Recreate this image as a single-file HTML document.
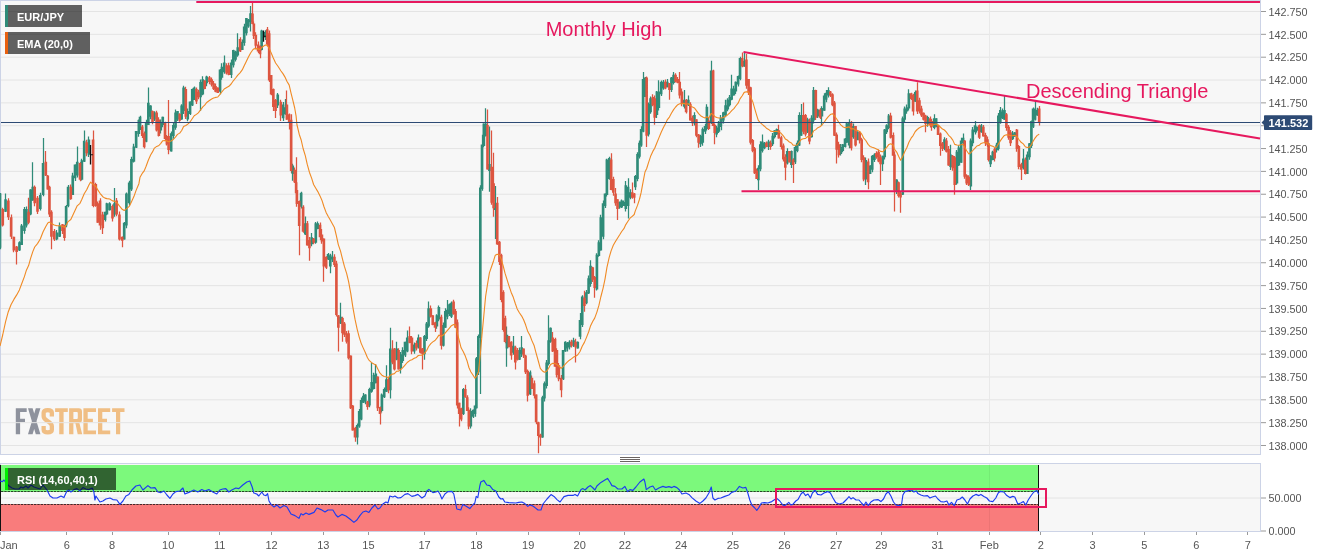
<!DOCTYPE html>
<html><head><meta charset="utf-8"><title>EUR/JPY</title>
<style>html,body{margin:0;padding:0;background:#fff;}body{width:1331px;height:558px;overflow:hidden;font-family:"Liberation Sans",sans-serif;}svg{display:block;will-change:transform;}</style>
</head><body>
<svg width="1331" height="558" viewBox="0 0 1331 558" font-family="Liberation Sans, sans-serif">
<rect width="1331" height="558" fill="#fff"/>
<rect x="0.5" y="0.5" width="1260" height="454" fill="#f7f7f7" stroke="#ccd3e6" stroke-width="1"/>
<path d="M15.8 408.3H26.7V411.90000000000003H20.1V418.7H25V422.1H20.1V434.2H15.8zM28 408.3h4.6L40.4 434.2h-4.6zM35.8 408.3h4.6L32.6 434.2h-4.6z" fill="#8e929d"/><path d="M51.85 416.5V412.80000000000007Q51.85 410.20000000000005 47.75 410.20000000000005Q43.65 410.20000000000005 43.65 412.80000000000007V416.3Q43.65 418.8 47.25 420.90000000000003Q51.85 423.5 51.85 426.3V429.69999999999993Q51.85 432.29999999999995 47.75 432.29999999999995Q43.65 432.29999999999995 43.65 429.69999999999993V426.0" fill="none" stroke="#f0be84" stroke-width="4.3"/><path d="M55.1 408.3H67.8V411.90000000000003H63.6V434.2H59.2V411.90000000000003H55.1zM69.1 408.3H78.8Q82 408.3 82 411.7V419.5Q82 422.70000000000005 79.4 423.0L82.2 434.2H77.7L75.39999999999999 423.3H73.39999999999999V434.2H69.1zM73.39999999999999 411.90000000000003V418.9H76.8Q77.8 418.9 77.8 417.7V413.1Q77.8 411.90000000000003 76.8 411.90000000000003zM83.4 408.3H96V411.90000000000003H87.7V418.7H92.9V422.1H87.7V430.59999999999997H96V434.2H83.4zM98 408.3H110.2V411.90000000000003H102.3V418.7H107V422.1H102.3V430.59999999999997H110.2V434.2H98zM112.1 408.3H124.5V411.90000000000003H120.2V434.2H116V411.90000000000003H112.1z" fill="#f0be84" fill-rule="evenodd"/>
<path d="M1 445.5H1260 M1 422.66H1260 M1 399.82H1260 M1 376.97H1260 M1 354.13H1260 M1 331.29H1260 M1 308.45H1260 M1 285.61H1260 M1 262.76H1260 M1 239.92H1260 M1 217.08H1260 M1 194.24H1260 M1 171.4H1260 M1 148.55H1260 M1 125.71H1260 M1 102.87H1260 M1 80.03H1260 M1 57.19H1260 M1 34.34H1260 M1 11.5H1260" stroke="#e4e4e4" stroke-width="1" fill="none"/>
<path d="M989.5 1V454M989.5 464V531" stroke="#e9e9e9" stroke-width="1" fill="none"/>
<path d="M0.5 192.9V249.2M5.5 193.6V212.0M19.5 241.2V251.1M21.5 224.1V245.0M24.5 206.9V233.7M26.5 206.4V227.6M30.5 189.2V215.3M32.5 162.2V200.8M40.5 192.8V210.6M43.5 138.1V196.2M56.5 230.0V240.3M59.5 222.6V237.0M66.5 204.9V227.3M68.5 184.9V207.3M72.5 172.8V195.0M75.5 164.4V181.0M77.5 146.4V177.6M81.5 158.8V180.6M84.5 130.6V162.0M88.5 136.5V157.0M105.5 211.7V221.5M106.5 202.8V215.3M109.5 202.3V210.6M114.5 188.1V216.8M124.5 222.0V239.4M126.5 192.4V228.2M129.5 180.8V205.4M131.5 156.7V190.9M133.5 143.7V162.5M136.5 131.1V148.1M138.5 119.5V136.8M140.5 115.7V130.1M146.5 119.8V142.2M148.5 87.5V125.0M150.5 105.3V119.3M154.5 111.3V120.9M160.5 119.5V133.5M162.5 116.7V127.3M171.5 131.4V151.4M173.5 122.5V138.7M175.5 109.5V129.8M177.5 110.9V120.9M181.5 104.3V119.7M183.5 85.8V114.0M187.5 108.4V121.2M190.5 101.4V115.1M192.5 88.4V106.1M194.5 86.5V100.0M200.5 79.5V111.1M202.5 76.2V95.3M206.5 75.7V86.2M220.5 69.0V94.3M221.5 63.3V79.8M224.5 55.6V73.7M231.5 59.5V77.9M233.5 49.8V67.6M235.5 50.7V61.5M237.5 33.3V56.7M242.5 39.5V50.0M244.5 23.7V45.7M246.5 18.1V35.4M248.5 19.0V27.8M250.5 6.1V31.4M261.5 29.8V50.6M265.5 30.2V40.1M277.5 93.0V107.9M283.5 102.0V121.1M285.5 98.9V114.7M292.5 163.8V180.8M301.5 191.8V208.4M305.5 216.4V235.0M311.5 233.1V246.2M315.5 222.1V243.7M317.5 221.6V229.2M328.5 252.9V260.0M330.5 253.8V273.3M332.5 251.1V262.1M340.5 302.8V323.9M357.5 423.5V444.4M359.5 409.1V427.8M361.5 397.5V420.3M363.5 392.9V403.1M365.5 394.2V404.3M369.5 387.7V407.3M371.5 362.5V392.8M373.5 372.8V389.5M375.5 363.9V383.3M381.5 393.5V412.6M384.5 387.4V398.1M386.5 365.3V392.0M390.5 327.8V398.6M396.5 341.7V360.3M400.5 352.0V373.6M402.5 347.3V363.1M405.5 341.7V357.0M407.5 330.6V352.3M414.5 342.5V353.7M418.5 334.5V348.4M424.5 334.9V359.7M426.5 321.9V340.9M428.5 301.4V327.8M436.5 314.3V328.7M438.5 305.5V321.2M443.5 322.5V346.4M445.5 308.2V327.8M447.5 300.0V319.3M449.5 303.4V315.9M451.5 301.5V318.1M463.5 387.9V415.1M470.5 408.2V428.4M473.5 409.5V418.1M475.5 404.8V416.7M476.5 357.1V408.6M478.5 334.4V375.1M480.5 185.3V394.0M482.5 134.7V190.7M483.5 123.6V147.2M485.5 108.3V136.6M489.5 126.4V191.7M495.5 186.0V239.0M506.5 326.4V366.7M513.5 336.1V354.8M519.5 347.5V360.0M521.5 336.1V357.1M530.5 370.5V395.0M542.5 395.7V437.8M544.5 381.4V401.5M546.5 360.0V388.4M548.5 315.3V365.6M550.5 327.5V342.8M563.5 350.0V380.0M565.5 341.2V351.7M567.5 342.1V351.5M569.5 340.2V349.5M573.5 337.8V347.0M577.5 341.4V348.6M580.5 313.1V339.3M582.5 295.2V327.0M586.5 290.0V304.2M588.5 275.6V293.9M590.5 260.3V286.8M596.5 253.2V290.6M598.5 240.3V256.7M600.5 214.8V250.6M603.5 200.4V239.3M605.5 193.4V208.1M606.5 158.7V196.5M609.5 156.8V179.8M619.5 201.5V208.7M621.5 199.6V208.1M623.5 200.5V206.1M625.5 181.1V211.5M628.5 178.3V218.6M630.5 189.3V199.2M635.5 174.9V190.1M637.5 152.2V181.2M639.5 140.6V158.4M641.5 126.2V146.7M643.5 71.9V132.2M645.5 77.0V96.9M648.5 102.4V136.5M650.5 96.4V113.7M656.5 91.1V117.9M658.5 80.3V110.4M661.5 80.4V95.9M663.5 79.9V89.8M667.5 79.0V87.2M671.5 77.0V92.0M673.5 71.9V84.5M684.5 90.0V108.4M688.5 95.6V105.9M694.5 112.3V125.4M700.5 134.8V146.9M702.5 127.4V145.7M705.5 124.1V134.0M706.5 104.2V130.6M711.5 60.8V123.9M716.5 125.8V137.2M718.5 121.1V133.1M720.5 115.1V127.0M721.5 117.8V130.3M723.5 111.7V123.5M725.5 99.7V117.3M727.5 98.2V111.2M729.5 95.0V106.4M731.5 74.7V100.3M733.5 85.7V95.6M735.5 81.4V94.0M738.5 75.4V86.5M740.5 56.8V80.3M744.5 52.5V66.7M758.5 165.3V190.0M760.5 141.2V171.2M762.5 134.4V152.6M764.5 142.0V149.2M768.5 139.7V149.9M772.5 133.1V145.9M774.5 130.3V138.4M776.5 128.4V135.0M787.5 148.2V164.5M791.5 150.4V167.9M795.5 145.2V164.0M797.5 140.6V152.3M799.5 112.3V146.1M801.5 103.9V135.8M807.5 117.7V133.1M811.5 115.3V137.5M813.5 87.0V123.5M817.5 108.7V118.1M821.5 106.3V126.1M824.5 93.3V110.8M826.5 90.1V102.3M828.5 87.2V97.6M840.5 144.0V155.6M842.5 143.9V152.3M845.5 137.9V147.5M846.5 122.1V142.8M849.5 119.2V148.2M853.5 123.4V138.7M857.5 131.2V140.3M865.5 157.5V185.0M870.5 165.3V173.9M872.5 155.1V172.3M874.5 153.2V162.0M882.5 155.8V171.1M884.5 129.0V159.5M886.5 124.3V134.0M888.5 114.1V129.2M896.5 179.2V194.0M902.5 116.6V195.0M904.5 106.4V122.6M906.5 104.5V113.7M908.5 89.2V110.4M915.5 90.5V101.7M927.5 115.7V126.8M934.5 114.2V129.2M936.5 118.3V127.2M944.5 137.2V150.3M950.5 144.7V169.9M956.5 149.9V184.8M958.5 145.3V166.1M961.5 137.8V162.8M963.5 133.6V146.0M970.5 138.6V190.0M972.5 127.0V146.2M975.5 121.1V134.5M976.5 126.4V132.6M981.5 124.0V132.8M990.5 155.3V166.9M992.5 150.7V160.3M996.5 142.8V152.6M998.5 113.1V150.6M1000.5 107.0V123.7M1002.5 108.6V118.9M1004.5 96.1V119.7M1012.5 130.9V140.0M1014.5 132.2V136.7M1023.5 148.9V169.5M1027.5 151.5V173.9M1029.5 143.1V159.8M1031.5 120.4V148.1M1033.5 107.4V128.1M1035.5 100.3V120.6M1037.5 107.8V115.8" stroke="#2f8b78" stroke-width="1.25" fill="none"/>
<path d="M2.5 207.7V226.4M8.5 198.3V220.1M11.5 214.5V239.0M13.5 236.7V252.3M16.5 245.9V264.4M28.5 197.8V224.2M34.5 185.4V206.2M37.5 196.1V214.0M45.5 151.1V176.1M47.5 175.1V189.4M49.5 185.7V217.1M51.5 210.2V249.2M54.5 229.1V240.9M62.5 223.9V234.0M64.5 224.8V240.8M70.5 184.5V199.7M80.5 162.1V181.2M86.5 139.8V156.2M93.5 130.6V207.3M95.5 182.7V206.7M97.5 201.6V222.8M100.5 198.3V229.7M102.5 211.7V233.9M112.5 204.6V221.5M116.5 198.1V216.2M119.5 211.5V240.6M122.5 236.4V247.2M142.5 124.9V137.9M144.5 131.4V148.4M152.5 110.4V124.3M156.5 110.8V131.4M158.5 117.2V136.4M165.5 121.7V140.6M166.5 135.1V145.6M168.5 100.0V154.2M179.5 113.2V121.7M185.5 86.7V119.0M196.5 87.4V104.0M198.5 89.7V99.3M204.5 80.3V89.2M209.5 76.0V84.3M211.5 77.4V86.5M213.5 81.1V90.1M215.5 83.4V92.2M217.5 87.5V93.1M226.5 63.3V74.5M228.5 62.8V75.3M240.5 37.2V52.0M252.5 2.8V24.2M253.5 21.6V39.0M255.5 32.3V48.2M258.5 41.5V53.1M260.5 45.6V58.3M267.5 27.0V46.5M269.5 30.6V82.0M271.5 75.0V95.3M273.5 88.4V111.1M275.5 99.0V118.1M280.5 99.7V121.1M286.5 90.6V119.7M289.5 113.4V129.4M291.5 114.2V173.1M294.5 167.5V183.1M296.5 157.2V193.6M296.5 190.0V206.8M299.5 200.6V255.3M303.5 205.2V232.8M307.5 220.9V245.6M309.5 237.0V260.8M313.5 237.9V244.2M320.5 222.5V240.1M321.5 228.9V243.7M323.5 238.6V281.7M326.5 256.2V268.9M334.5 254.2V267.0M336.5 260.7V316.5M338.5 315.0V351.4M342.5 316.8V341.7M344.5 321.9V337.0M346.5 331.1V343.4M348.5 330.6V359.5M350.5 355.6V408.9M352.5 405.1V430.6M355.5 426.8V441.7M367.5 400.7V409.7M377.5 376.4V411.0M380.5 406.5V424.4M388.5 376.7V393.2M392.5 340.3V364.2M394.5 347.9V370.6M398.5 348.3V369.4M409.5 326.4V343.3M411.5 336.0V354.3M416.5 340.6V350.4M420.5 337.3V353.4M422.5 347.9V369.4M430.5 305.6V317.5M432.5 315.3V325.3M435.5 321.7V331.9M441.5 314.7V349.4M453.5 299.7V314.8M455.5 308.9V328.1M457.5 319.5V408.5M459.5 402.8V426.4M461.5 407.8V421.2M465.5 384.7V397.8M467.5 395.3V411.1M468.5 407.3V429.2M487.5 109.5V169.5M491.5 130.5V204.8M493.5 152.8V216.7M497.5 197.0V244.7M499.5 241.0V264.9M501.5 253.8V302.3M503.5 290.3V331.7M505.5 315.8V343.2M508.5 336.1V347.2M511.5 341.2V359.7M515.5 345.7V369.4M517.5 348.0V360.6M523.5 348.4V357.9M525.5 354.8V374.0M527.5 369.6V401.4M531.5 375.6V388.9M534.5 380.6V398.5M536.5 394.4V424.3M538.5 421.7V453.3M540.5 433.7V445.8M552.5 331.9V352.0M555.5 337.7V366.7M556.5 348.3V377.6M558.5 363.1V381.2M561.5 375.1V397.2M571.5 339.7V347.6M575.5 338.7V362.5M584.5 290.8V311.7M592.5 266.7V282.0M594.5 276.0V297.8M611.5 153.3V190.3M613.5 176.7V195.7M615.5 188.1V205.7M617.5 199.2V220.0M632.5 182.5V198.7M634.5 192.9V203.3M646.5 76.5V146.9M652.5 94.2V106.2M654.5 95.4V124.7M665.5 79.5V89.2M669.5 83.1V99.7M675.5 73.2V82.5M677.5 76.9V83.3M679.5 71.9V98.5M681.5 88.4V106.2M686.5 99.0V113.4M690.5 102.2V120.6M692.5 115.6V126.0M696.5 119.2V137.3M698.5 134.0V147.8M708.5 117.6V130.1M713.5 69.8V126.1M714.5 123.5V144.2M742.5 52.5V67.3M746.5 53.9V88.7M748.5 78.9V95.1M750.5 86.7V144.5M752.5 139.0V152.3M754.5 146.9V173.9M756.5 168.6V178.9M766.5 141.5V147.2M770.5 140.6V149.7M778.5 124.7V138.6M781.5 135.7V149.6M783.5 143.6V161.5M785.5 154.2V180.3M789.5 150.9V162.5M793.5 158.2V183.1M803.5 102.5V134.3M805.5 114.0V136.5M809.5 118.6V144.2M815.5 89.8V120.1M820.5 108.2V118.9M830.5 90.9V97.0M832.5 93.2V106.2M834.5 101.0V136.1M836.5 132.5V163.6M838.5 141.7V157.6M851.5 121.1V150.4M855.5 126.1V146.4M859.5 131.2V143.5M861.5 137.7V162.3M863.5 155.3V181.2M868.5 158.4V189.2M876.5 151.3V158.7M878.5 149.5V162.3M880.5 154.5V185.0M890.5 112.8V138.4M893.5 132.5V155.8M894.5 151.5V211.4M898.5 181.5V197.6M900.5 192.1V212.8M911.5 92.8V100.1M913.5 93.7V115.6M917.5 82.2V114.0M919.5 97.8V113.4M921.5 105.7V117.0M923.5 112.5V120.6M925.5 114.8V132.2M930.5 116.6V127.6M931.5 118.9V130.8M938.5 124.8V135.0M940.5 132.6V155.8M942.5 141.9V150.9M946.5 138.1V152.5M948.5 145.9V165.8M952.5 155.1V170.7M954.5 156.0V194.7M964.5 140.1V178.7M966.5 174.3V185.1M968.5 175.2V185.9M979.5 124.5V138.9M983.5 124.9V136.4M985.5 132.8V146.0M987.5 136.5V146.8M988.5 143.3V161.5M994.5 147.4V161.5M1006.5 112.9V130.7M1008.5 124.9V139.8M1010.5 130.0V146.1M1016.5 129.0V151.8M1018.5 145.1V169.3M1021.5 162.7V180.0M1025.5 157.5V174.5M1039.5 105.9V125.4" stroke="#dd5540" stroke-width="1.25" fill="none"/>
<path d="M-1.30 193.6h2.6V247.8h-2.6zM4.26 199.2h2.6V211.7h-2.6zM18.14 242.2h2.6V250.6h-2.6zM20.37 225.6h2.6V245.0h-2.6zM23.14 208.9h2.6V231.1h-2.6zM25.09 208.9h2.6V225.6h-2.6zM29.26 189.4h2.6V214.4h-2.6zM31.48 186.7h2.6V200.6h-2.6zM38.98 195.0h2.6V208.9h-2.6zM41.76 163.1h2.6V195.0h-2.6zM55.64 232.5h2.6V239.4h-2.6zM58.42 225.6h2.6V236.7h-2.6zM64.81 206.1h2.6V225.6h-2.6zM66.76 186.7h2.6V206.1h-2.6zM71.48 175.6h2.6V195.0h-2.6zM73.70 164.4h2.6V178.3h-2.6zM75.92 161.7h2.6V175.6h-2.6zM80.64 160.3h2.6V179.7h-2.6zM82.87 140.8h2.6V161.7h-2.6zM87.59 139.4h2.6V154.7h-2.6zM103.70 211.7h2.6V220.0h-2.6zM105.64 203.3h2.6V214.4h-2.6zM108.42 203.3h2.6V210.3h-2.6zM113.14 203.3h2.6V214.4h-2.6zM122.87 222.8h2.6V239.4h-2.6zM125.09 193.6h2.6V225.6h-2.6zM127.87 182.5h2.6V203.3h-2.6zM130.09 158.9h2.6V189.4h-2.6zM132.59 146.4h2.6V161.7h-2.6zM134.81 131.1h2.6V147.8h-2.6zM137.59 120.0h2.6V133.9h-2.6zM138.70 116.7h2.6V127.8h-2.6zM144.81 122.2h2.6V141.7h-2.6zM147.03 102.8h2.6V125.0h-2.6zM149.26 105.6h2.6V116.7h-2.6zM153.14 112.5h2.6V119.4h-2.6zM159.53 122.2h2.6V130.6h-2.6zM161.48 116.7h2.6V125.0h-2.6zM169.81 133.3h2.6V151.4h-2.6zM172.03 125.0h2.6V136.1h-2.6zM174.26 112.5h2.6V127.8h-2.6zM176.20 111.1h2.6V119.4h-2.6zM180.37 105.6h2.6V119.4h-2.6zM182.31 87.5h2.6V111.1h-2.6zM186.48 111.1h2.6V119.4h-2.6zM188.70 101.4h2.6V113.9h-2.6zM190.92 88.9h2.6V105.6h-2.6zM192.87 87.5h2.6V100.0h-2.6zM199.26 81.9h2.6V97.2h-2.6zM201.48 79.2h2.6V94.4h-2.6zM205.37 76.4h2.6V83.3h-2.6zM218.70 69.4h2.6V91.7h-2.6zM220.64 66.7h2.6V77.8h-2.6zM222.87 62.5h2.6V72.2h-2.6zM229.81 62.5h2.6V75.0h-2.6zM232.03 50.0h2.6V65.3h-2.6zM234.26 51.4h2.6V59.7h-2.6zM236.48 47.2h2.6V55.6h-2.6zM240.92 41.7h2.6V50.0h-2.6zM242.87 26.4h2.6V43.1h-2.6zM245.09 18.1h2.6V33.3h-2.6zM247.03 19.4h2.6V26.4h-2.6zM249.26 13.3h2.6V22.2h-2.6zM260.37 30.6h2.6V50.0h-2.6zM263.70 31.9h2.6V37.5h-2.6zM276.48 94.4h2.6V105.6h-2.6zM281.76 104.4h2.6V118.3h-2.6zM283.70 107.2h2.6V114.2h-2.6zM291.48 165.6h2.6V173.9h-2.6zM299.81 192.8h2.6V206.7h-2.6zM303.98 223.3h2.6V234.4h-2.6zM310.37 237.2h2.6V244.2h-2.6zM314.53 223.3h2.6V242.8h-2.6zM316.48 223.3h2.6V228.9h-2.6zM326.76 253.9h2.6V259.4h-2.6zM328.98 255.3h2.6V266.4h-2.6zM330.92 256.7h2.6V259.4h-2.6zM339.26 316.7h2.6V323.6h-2.6zM355.92 425.0h2.6V437.5h-2.6zM357.87 411.1h2.6V426.4h-2.6zM359.81 400.0h2.6V419.4h-2.6zM362.03 395.8h2.6V402.8h-2.6zM363.98 394.4h2.6V401.4h-2.6zM368.14 388.9h2.6V405.6h-2.6zM370.37 381.9h2.6V391.7h-2.6zM372.59 375.0h2.6V388.9h-2.6zM374.53 373.6h2.6V383.3h-2.6zM380.64 394.4h2.6V411.1h-2.6zM382.87 388.9h2.6V397.2h-2.6zM385.09 379.2h2.6V391.7h-2.6zM388.98 348.6h2.6V390.3h-2.6zM395.37 348.6h2.6V359.7h-2.6zM399.53 354.2h2.6V368.1h-2.6zM401.48 350.0h2.6V361.1h-2.6zM403.70 341.7h2.6V355.6h-2.6zM405.92 337.5h2.6V351.4h-2.6zM412.87 344.4h2.6V351.4h-2.6zM417.03 337.5h2.6V347.2h-2.6zM423.14 336.1h2.6V354.2h-2.6zM425.37 323.6h2.6V338.9h-2.6zM427.31 308.3h2.6V326.4h-2.6zM435.64 315.3h2.6V326.4h-2.6zM437.59 306.9h2.6V319.4h-2.6zM442.03 325.0h2.6V345.8h-2.6zM443.98 311.1h2.6V327.8h-2.6zM445.92 309.7h2.6V316.7h-2.6zM448.14 304.2h2.6V313.9h-2.6zM450.09 302.8h2.6V316.7h-2.6zM462.03 388.9h2.6V413.9h-2.6zM469.53 411.1h2.6V426.4h-2.6zM471.76 409.7h2.6V416.7h-2.6zM473.70 405.6h2.6V413.9h-2.6zM475.09 358.3h2.6V408.3h-2.6zM477.03 336.1h2.6V372.2h-2.6zM479.00 187.5h2.6V338.0h-2.6zM480.70 144.5h2.6V189.0h-2.6zM482.60 123.6h2.6V146.0h-2.6zM484.30 123.6h2.6V136.0h-2.6zM488.10 164.0h2.6V171.0h-2.6zM494.00 203.0h2.6V210.0h-2.6zM505.64 334.7h2.6V348.6h-2.6zM512.03 345.8h2.6V352.8h-2.6zM518.14 350.0h2.6V359.7h-2.6zM520.37 347.2h2.6V354.2h-2.6zM528.70 372.2h2.6V394.4h-2.6zM541.20 397.2h2.6V437.5h-2.6zM543.14 383.3h2.6V398.6h-2.6zM545.37 362.5h2.6V386.1h-2.6zM547.31 340.3h2.6V363.9h-2.6zM549.26 327.8h2.6V341.7h-2.6zM561.76 350.0h2.6V379.2h-2.6zM563.98 341.7h2.6V351.4h-2.6zM565.92 343.1h2.6V348.6h-2.6zM568.14 341.7h2.6V347.2h-2.6zM572.31 340.3h2.6V345.8h-2.6zM576.48 341.7h2.6V348.6h-2.6zM578.70 320.0h2.6V336.7h-2.6zM580.92 296.4h2.6V325.0h-2.6zM585.09 292.2h2.6V303.3h-2.6zM587.31 278.3h2.6V293.6h-2.6zM589.26 265.8h2.6V283.9h-2.6zM595.64 254.7h2.6V289.4h-2.6zM597.59 242.2h2.6V256.1h-2.6zM599.53 217.2h2.6V250.6h-2.6zM601.76 203.3h2.6V236.7h-2.6zM603.70 193.6h2.6V206.1h-2.6zM605.64 159.4h2.6V195.0h-2.6zM607.87 158.1h2.6V178.9h-2.6zM618.42 201.9h2.6V207.5h-2.6zM620.37 200.6h2.6V207.5h-2.6zM622.59 201.9h2.6V206.1h-2.6zM624.53 185.3h2.6V208.9h-2.6zM626.76 186.7h2.6V206.1h-2.6zM628.70 192.2h2.6V197.8h-2.6zM633.98 176.1h2.6V187.2h-2.6zM636.20 153.9h2.6V178.9h-2.6zM638.14 142.8h2.6V156.7h-2.6zM639.81 128.9h2.6V145.6h-2.6zM641.76 78.9h2.6V131.7h-2.6zM643.70 77.5h2.6V96.9h-2.6zM647.31 103.9h2.6V134.4h-2.6zM649.26 98.3h2.6V112.2h-2.6zM655.64 91.4h2.6V115.0h-2.6zM657.59 91.4h2.6V108.1h-2.6zM659.81 81.7h2.6V94.2h-2.6zM662.03 81.7h2.6V88.6h-2.6zM665.92 81.7h2.6V87.2h-2.6zM670.09 77.5h2.6V90.0h-2.6zM672.31 74.7h2.6V83.1h-2.6zM682.87 99.7h2.6V106.7h-2.6zM687.03 99.7h2.6V105.3h-2.6zM693.14 115.0h2.6V123.3h-2.6zM699.26 135.8h2.6V144.2h-2.6zM701.48 128.9h2.6V142.8h-2.6zM703.70 126.1h2.6V131.7h-2.6zM705.64 106.7h2.6V128.9h-2.6zM709.81 70.6h2.6V123.3h-2.6zM715.37 127.5h2.6V134.4h-2.6zM717.59 123.3h2.6V131.7h-2.6zM719.53 117.8h2.6V126.1h-2.6zM720.09 117.8h2.6V123.3h-2.6zM722.03 112.2h2.6V120.6h-2.6zM724.26 105.3h2.6V115.0h-2.6zM726.48 99.7h2.6V109.4h-2.6zM728.42 96.9h2.6V105.3h-2.6zM730.37 88.6h2.6V99.7h-2.6zM732.59 88.6h2.6V95.6h-2.6zM734.53 81.7h2.6V91.4h-2.6zM736.76 76.1h2.6V84.4h-2.6zM738.70 58.1h2.6V78.9h-2.6zM742.87 60.8h2.6V66.4h-2.6zM757.03 167.8h2.6V180.3h-2.6zM758.98 144.2h2.6V169.2h-2.6zM760.92 141.4h2.6V151.1h-2.6zM763.14 142.8h2.6V148.3h-2.6zM767.31 141.4h2.6V146.9h-2.6zM771.48 135.8h2.6V144.2h-2.6zM773.42 130.3h2.6V137.2h-2.6zM775.64 128.9h2.6V134.4h-2.6zM785.92 151.1h2.6V163.6h-2.6zM790.09 151.1h2.6V165.0h-2.6zM793.70 146.9h2.6V162.2h-2.6zM795.92 142.8h2.6V151.1h-2.6zM797.87 115.0h2.6V145.6h-2.6zM799.81 115.0h2.6V135.8h-2.6zM806.20 119.2h2.6V131.7h-2.6zM810.37 117.8h2.6V137.2h-2.6zM812.31 90.0h2.6V120.6h-2.6zM816.48 109.4h2.6V116.4h-2.6zM820.64 108.1h2.6V116.4h-2.6zM822.87 95.6h2.6V110.8h-2.6zM824.81 92.8h2.6V99.7h-2.6zM827.03 90.0h2.6V95.6h-2.6zM839.53 146.9h2.6V153.9h-2.6zM841.48 144.2h2.6V151.1h-2.6zM843.70 138.6h2.6V146.9h-2.6zM845.64 123.3h2.6V142.8h-2.6zM847.87 121.9h2.6V145.6h-2.6zM852.03 126.1h2.6V137.2h-2.6zM856.20 131.7h2.6V140.0h-2.6zM864.53 160.0h2.6V179.4h-2.6zM868.70 165.6h2.6V173.9h-2.6zM870.92 155.8h2.6V169.7h-2.6zM873.14 154.4h2.6V160.0h-2.6zM881.48 155.8h2.6V164.2h-2.6zM883.42 129.4h2.6V157.2h-2.6zM885.37 125.3h2.6V132.2h-2.6zM887.59 115.6h2.6V128.1h-2.6zM895.37 179.4h2.6V191.9h-2.6zM901.48 118.3h2.6V194.7h-2.6zM903.42 108.6h2.6V119.7h-2.6zM905.64 107.2h2.6V111.4h-2.6zM907.59 93.3h2.6V108.6h-2.6zM913.98 91.9h2.6V101.7h-2.6zM926.48 116.9h2.6V123.9h-2.6zM932.87 118.3h2.6V128.1h-2.6zM934.81 118.3h2.6V126.7h-2.6zM943.14 139.2h2.6V148.9h-2.6zM949.26 154.4h2.6V166.9h-2.6zM955.64 151.7h2.6V183.6h-2.6zM957.59 147.5h2.6V165.6h-2.6zM959.81 140.6h2.6V162.8h-2.6zM961.76 137.8h2.6V143.3h-2.6zM969.53 140.6h2.6V186.4h-2.6zM971.48 129.4h2.6V143.3h-2.6zM973.70 125.3h2.6V132.2h-2.6zM975.64 126.7h2.6V130.8h-2.6zM979.81 125.3h2.6V132.2h-2.6zM989.26 155.8h2.6V164.2h-2.6zM991.48 151.7h2.6V160.0h-2.6zM995.37 144.7h2.6V150.3h-2.6zM997.03 115.6h2.6V148.9h-2.6zM998.98 110.0h2.6V122.5h-2.6zM1000.92 111.4h2.6V118.3h-2.6zM1003.14 110.0h2.6V119.7h-2.6zM1011.48 133.6h2.6V139.2h-2.6zM1013.42 132.2h2.6V136.4h-2.6zM1022.03 158.6h2.6V168.3h-2.6zM1025.92 154.4h2.6V173.9h-2.6zM1028.14 143.3h2.6V157.2h-2.6zM1030.09 121.1h2.6V146.1h-2.6zM1031.76 108.6h2.6V126.7h-2.6zM1033.70 108.6h2.6V119.7h-2.6zM1035.92 110.0h2.6V115.6h-2.6z" fill="#2f8b78"/>
<path d="M1.48 208.9h2.6V225.6h-2.6zM7.03 200.6h2.6V217.2h-2.6zM9.81 217.2h2.6V236.7h-2.6zM12.59 236.7h2.6V250.6h-2.6zM15.37 246.4h2.6V251.9h-2.6zM27.31 211.7h2.6V222.8h-2.6zM33.42 186.7h2.6V203.3h-2.6zM36.20 197.8h2.6V211.7h-2.6zM44.53 161.7h2.6V175.6h-2.6zM46.48 175.6h2.6V189.4h-2.6zM48.14 186.7h2.6V214.4h-2.6zM50.09 211.7h2.6V236.7h-2.6zM52.87 231.1h2.6V239.4h-2.6zM61.20 224.2h2.6V231.1h-2.6zM63.14 225.6h2.6V238.1h-2.6zM69.53 186.7h2.6V199.2h-2.6zM78.70 163.1h2.6V179.7h-2.6zM85.37 142.2h2.6V153.3h-2.6zM91.76 139.4h2.6V206.1h-2.6zM94.53 183.9h2.6V206.1h-2.6zM96.48 203.3h2.6V222.8h-2.6zM98.70 200.6h2.6V225.6h-2.6zM101.48 214.4h2.6V228.3h-2.6zM111.20 206.1h2.6V218.6h-2.6zM115.37 200.6h2.6V214.4h-2.6zM118.14 214.4h2.6V239.4h-2.6zM120.92 236.7h2.6V240.8h-2.6zM140.92 126.4h2.6V136.1h-2.6zM142.87 133.3h2.6V147.2h-2.6zM151.20 111.1h2.6V122.2h-2.6zM155.37 112.5h2.6V130.6h-2.6zM157.59 119.4h2.6V136.1h-2.6zM163.70 122.2h2.6V138.9h-2.6zM165.64 136.1h2.6V144.4h-2.6zM167.31 136.1h2.6V150.0h-2.6zM178.42 113.9h2.6V120.8h-2.6zM184.53 88.9h2.6V116.7h-2.6zM195.09 88.9h2.6V101.4h-2.6zM197.03 91.7h2.6V97.2h-2.6zM203.42 80.6h2.6V88.9h-2.6zM208.14 77.2h2.6V81.9h-2.6zM210.37 79.2h2.6V84.7h-2.6zM212.31 83.3h2.6V88.9h-2.6zM214.26 86.1h2.6V91.7h-2.6zM216.48 87.5h2.6V93.1h-2.6zM225.37 65.3h2.6V73.6h-2.6zM227.59 65.3h2.6V75.0h-2.6zM238.70 38.9h2.6V51.4h-2.6zM251.20 13.6h2.6V23.9h-2.6zM252.59 23.6h2.6V36.1h-2.6zM254.53 34.7h2.6V45.8h-2.6zM256.76 44.4h2.6V51.4h-2.6zM258.70 45.8h2.6V54.2h-2.6zM265.92 29.2h2.6V44.4h-2.6zM267.87 33.3h2.6V80.6h-2.6zM269.81 75.0h2.6V94.4h-2.6zM272.03 88.9h2.6V106.9h-2.6zM274.26 100.0h2.6V111.1h-2.6zM279.53 101.7h2.6V115.6h-2.6zM285.64 104.4h2.6V119.7h-2.6zM287.87 114.2h2.6V122.5h-2.6zM289.81 119.7h2.6V171.1h-2.6zM293.42 169.7h2.6V182.2h-2.6zM294.81 182.2h2.6V193.3h-2.6zM295.64 190.0h2.6V203.9h-2.6zM297.87 201.1h2.6V226.1h-2.6zM301.76 206.7h2.6V231.7h-2.6zM305.92 223.3h2.6V245.6h-2.6zM308.14 240.0h2.6V248.3h-2.6zM312.31 238.6h2.6V242.8h-2.6zM318.70 224.7h2.6V237.2h-2.6zM320.64 234.4h2.6V241.4h-2.6zM322.59 238.6h2.6V266.4h-2.6zM324.81 256.7h2.6V267.8h-2.6zM333.14 256.7h2.6V265.0h-2.6zM335.09 263.6h2.6V315.0h-2.6zM337.03 315.3h2.6V327.8h-2.6zM341.20 318.1h2.6V333.3h-2.6zM343.14 323.6h2.6V334.7h-2.6zM345.37 333.3h2.6V341.7h-2.6zM347.31 333.3h2.6V358.3h-2.6zM349.53 355.6h2.6V408.3h-2.6zM351.48 405.6h2.6V430.6h-2.6zM353.70 427.8h2.6V437.5h-2.6zM366.20 401.4h2.6V406.9h-2.6zM376.48 376.4h2.6V408.3h-2.6zM378.70 406.9h2.6V413.9h-2.6zM387.03 379.2h2.6V390.3h-2.6zM391.20 350.0h2.6V362.5h-2.6zM393.14 348.6h2.6V369.4h-2.6zM397.31 350.0h2.6V369.4h-2.6zM408.42 336.1h2.6V343.1h-2.6zM410.64 337.5h2.6V351.4h-2.6zM415.09 343.1h2.6V348.6h-2.6zM418.98 337.5h2.6V352.8h-2.6zM421.20 348.6h2.6V354.2h-2.6zM429.53 308.3h2.6V316.7h-2.6zM431.48 315.3h2.6V325.0h-2.6zM433.70 322.2h2.6V327.8h-2.6zM439.81 316.7h2.6V345.8h-2.6zM452.31 301.4h2.6V313.9h-2.6zM454.26 311.1h2.6V327.8h-2.6zM455.92 322.2h2.6V405.6h-2.6zM457.87 402.8h2.6V413.9h-2.6zM459.81 408.3h2.6V419.4h-2.6zM463.98 388.9h2.6V397.2h-2.6zM465.92 397.2h2.6V411.1h-2.6zM467.59 409.7h2.6V426.4h-2.6zM486.20 125.0h2.6V169.5h-2.6zM490.40 166.7h2.6V202.8h-2.6zM492.30 183.3h2.6V208.3h-2.6zM495.90 202.8h2.6V244.4h-2.6zM498.10 241.7h2.6V262.0h-2.6zM499.90 255.0h2.6V300.0h-2.6zM501.90 292.0h2.6V330.0h-2.6zM503.70 318.0h2.6V342.0h-2.6zM507.59 336.1h2.6V347.2h-2.6zM509.81 341.7h2.6V355.6h-2.6zM513.98 347.2h2.6V362.5h-2.6zM515.92 350.0h2.6V359.7h-2.6zM522.31 348.6h2.6V355.6h-2.6zM524.26 355.6h2.6V372.2h-2.6zM526.48 370.8h2.6V395.8h-2.6zM530.64 377.8h2.6V388.9h-2.6zM532.87 383.3h2.6V395.8h-2.6zM534.81 394.4h2.6V422.2h-2.6zM537.03 422.2h2.6V436.1h-2.6zM538.98 434.7h2.6V437.5h-2.6zM551.48 337.5h2.6V351.4h-2.6zM553.70 338.9h2.6V366.7h-2.6zM555.64 350.0h2.6V375.0h-2.6zM557.59 365.3h2.6V379.2h-2.6zM559.81 377.8h2.6V390.3h-2.6zM570.09 341.7h2.6V345.8h-2.6zM574.26 341.7h2.6V347.2h-2.6zM583.14 297.8h2.6V306.1h-2.6zM591.48 267.2h2.6V279.7h-2.6zM593.42 276.9h2.6V288.1h-2.6zM609.81 159.4h2.6V190.0h-2.6zM612.03 178.9h2.6V192.8h-2.6zM614.26 193.6h2.6V203.3h-2.6zM616.20 199.2h2.6V208.9h-2.6zM630.92 192.2h2.6V197.8h-2.6zM632.87 193.6h2.6V197.8h-2.6zM645.37 77.5h2.6V135.8h-2.6zM651.48 96.9h2.6V105.3h-2.6zM653.42 98.3h2.6V117.8h-2.6zM663.98 81.7h2.6V88.6h-2.6zM668.14 83.1h2.6V90.0h-2.6zM674.26 74.7h2.6V81.7h-2.6zM676.48 78.9h2.6V83.1h-2.6zM678.42 81.7h2.6V95.6h-2.6zM680.64 91.4h2.6V103.9h-2.6zM684.81 99.7h2.6V112.2h-2.6zM688.98 103.9h2.6V120.6h-2.6zM691.20 117.8h2.6V123.3h-2.6zM695.09 119.2h2.6V135.8h-2.6zM697.31 134.4h2.6V142.8h-2.6zM707.59 120.6h2.6V128.9h-2.6zM711.76 70.6h2.6V126.1h-2.6zM713.42 124.7h2.6V133.1h-2.6zM740.92 58.1h2.6V66.4h-2.6zM745.09 59.4h2.6V85.8h-2.6zM747.31 78.9h2.6V92.8h-2.6zM749.26 87.2h2.6V142.8h-2.6zM751.48 140.0h2.6V151.1h-2.6zM753.42 148.3h2.6V173.3h-2.6zM755.37 170.6h2.6V178.9h-2.6zM765.09 142.8h2.6V146.9h-2.6zM769.26 142.8h2.6V146.9h-2.6zM777.59 130.3h2.6V138.6h-2.6zM779.81 137.2h2.6V146.9h-2.6zM782.03 145.6h2.6V159.4h-2.6zM783.98 156.7h2.6V167.8h-2.6zM788.14 151.1h2.6V162.2h-2.6zM791.76 159.4h2.6V165.0h-2.6zM802.03 115.0h2.6V131.7h-2.6zM804.26 115.0h2.6V134.4h-2.6zM808.14 120.6h2.6V141.4h-2.6zM814.53 90.0h2.6V117.8h-2.6zM818.70 109.4h2.6V117.8h-2.6zM828.98 91.4h2.6V95.6h-2.6zM831.20 94.2h2.6V105.3h-2.6zM833.14 102.5h2.6V135.8h-2.6zM835.37 134.4h2.6V149.7h-2.6zM837.59 144.2h2.6V155.3h-2.6zM849.81 123.3h2.6V148.3h-2.6zM854.26 126.1h2.6V145.6h-2.6zM858.42 132.2h2.6V140.6h-2.6zM860.37 139.2h2.6V160.0h-2.6zM862.59 157.2h2.6V179.4h-2.6zM866.76 161.4h2.6V182.2h-2.6zM875.09 153.1h2.6V157.2h-2.6zM877.31 151.7h2.6V161.4h-2.6zM879.26 157.2h2.6V164.2h-2.6zM889.53 115.6h2.6V137.8h-2.6zM891.76 135.0h2.6V155.8h-2.6zM893.14 154.4h2.6V190.6h-2.6zM897.31 182.2h2.6V196.1h-2.6zM899.26 193.3h2.6V197.5h-2.6zM909.81 93.3h2.6V98.9h-2.6zM911.76 94.7h2.6V111.4h-2.6zM915.92 90.6h2.6V111.4h-2.6zM918.14 100.3h2.6V111.4h-2.6zM920.09 108.6h2.6V115.6h-2.6zM922.31 112.8h2.6V119.7h-2.6zM924.26 115.6h2.6V123.9h-2.6zM928.70 118.3h2.6V125.3h-2.6zM930.64 121.1h2.6V126.7h-2.6zM936.76 125.3h2.6V135.0h-2.6zM938.98 133.6h2.6V146.1h-2.6zM941.20 143.3h2.6V148.9h-2.6zM945.09 140.6h2.6V151.7h-2.6zM947.31 148.9h2.6V165.6h-2.6zM951.48 155.8h2.6V168.3h-2.6zM953.42 157.2h2.6V185.0h-2.6zM963.42 140.6h2.6V176.7h-2.6zM965.37 175.3h2.6V183.6h-2.6zM967.59 176.7h2.6V185.0h-2.6zM977.87 125.3h2.6V137.8h-2.6zM982.03 126.7h2.6V136.4h-2.6zM984.26 135.0h2.6V143.3h-2.6zM986.20 139.2h2.6V144.7h-2.6zM987.31 143.3h2.6V160.0h-2.6zM993.42 148.9h2.6V158.6h-2.6zM1005.09 114.2h2.6V128.1h-2.6zM1007.31 126.7h2.6V137.8h-2.6zM1009.26 132.2h2.6V143.3h-2.6zM1015.64 129.4h2.6V148.9h-2.6zM1017.59 146.1h2.6V166.9h-2.6zM1019.81 164.2h2.6V169.7h-2.6zM1023.98 160.0h2.6V173.9h-2.6zM1037.87 108.6h2.6V122.5h-2.6z" fill="#dd5540"/>
<path d="M89.85 145.0h1.3V164.4h-1.3zM90.5 154.3h2.4v1h-2.4zM262.85 30.6h1.3V41.7h-1.3zM263.5 35.7h2.4v1h-2.4z" fill="#111"/>
<polyline points="0.0,346.0 2.8,334.5 5.6,321.6 8.3,311.7 11.1,304.5 13.9,299.4 16.7,294.9 19.4,289.9 21.7,283.7 24.4,276.6 26.4,270.2 28.6,265.6 30.6,258.4 32.8,251.6 34.7,247.0 37.5,243.6 40.3,239.0 43.1,231.7 45.8,226.4 47.8,222.9 49.4,222.1 51.4,223.5 54.2,225.0 56.9,225.7 59.7,225.7 62.5,226.2 64.4,227.3 66.1,225.3 68.1,221.6 70.8,219.5 72.8,215.3 75.0,210.5 77.2,205.8 80.0,203.3 81.9,199.2 84.2,193.7 86.7,189.8 88.9,185.0 90.6,182.1 93.1,184.4 95.8,186.5 97.8,189.9 100.0,193.3 102.8,196.7 105.0,198.1 106.9,198.6 109.7,199.0 112.5,200.9 114.4,201.1 116.7,202.4 119.4,205.9 122.2,209.3 124.2,210.5 126.4,208.9 129.2,206.4 131.4,201.9 133.9,196.6 136.1,190.4 138.9,183.7 140.0,177.3 142.2,173.4 144.2,170.9 146.1,166.2 148.3,160.2 150.6,155.0 152.5,151.9 154.4,148.1 156.7,146.4 158.9,145.5 160.8,143.3 162.8,140.7 165.0,140.5 166.9,140.9 168.6,141.8 171.1,141.0 173.3,139.5 175.6,136.9 177.5,134.4 179.7,133.1 181.7,130.5 183.6,126.4 185.8,125.5 187.8,124.1 190.0,122.0 192.2,118.8 194.2,115.8 196.4,114.4 198.3,112.8 200.6,109.9 202.8,106.9 204.7,105.2 206.7,102.5 209.4,100.5 211.7,99.0 213.6,98.1 215.6,97.4 217.8,97.0 220.0,94.4 221.9,91.8 224.2,89.0 226.7,87.5 228.9,86.3 231.1,84.0 233.3,80.8 235.6,78.0 237.8,75.1 240.0,72.8 242.2,69.9 244.2,65.7 246.4,61.2 248.3,57.2 250.6,53.0 252.5,50.2 253.9,48.9 255.8,48.6 258.1,48.9 260.0,49.4 261.7,47.6 263.1,46.5 265.0,45.1 267.2,45.0 269.2,48.4 271.1,52.8 273.3,58.0 275.6,63.0 277.8,66.0 280.8,70.7 283.1,73.9 285.0,77.1 286.9,81.2 289.2,85.1 291.1,93.3 292.8,100.2 294.7,108.0 296.1,116.1 296.9,124.5 299.2,134.2 301.1,139.7 303.1,148.5 305.3,155.6 307.2,164.2 309.4,172.2 311.7,178.4 313.6,184.5 315.8,188.2 317.8,191.6 320.0,195.9 321.9,200.2 323.9,206.5 326.1,212.4 328.1,216.3 330.3,220.0 332.2,223.5 334.4,227.5 336.4,235.8 338.3,244.6 340.6,251.4 342.5,259.2 344.4,266.4 346.7,273.6 348.6,281.7 350.8,293.7 352.8,306.8 355.0,319.2 357.2,329.3 359.2,337.1 361.1,343.1 363.3,348.1 365.3,352.5 367.5,357.7 369.4,360.7 371.7,362.7 373.9,363.9 375.8,364.8 377.8,368.9 380.0,373.2 381.9,375.2 384.2,376.5 386.4,376.8 388.3,378.1 390.3,375.3 392.5,374.1 394.4,373.6 396.7,371.2 398.6,371.1 400.8,369.5 402.8,367.6 405.0,365.1 407.2,362.5 409.7,360.6 411.9,359.8 414.2,358.3 416.4,357.4 418.3,355.5 420.3,355.2 422.5,355.1 424.4,353.3 426.7,350.5 428.6,346.5 430.8,343.6 432.8,341.9 435.0,340.5 436.9,338.1 438.9,335.1 441.1,336.2 443.3,335.1 445.3,332.8 447.2,330.6 449.4,328.1 451.4,325.7 453.6,324.6 455.6,324.9 457.2,332.6 459.2,340.3 461.1,347.8 463.3,351.7 465.3,356.1 467.2,361.3 468.9,367.5 470.8,371.7 473.1,375.3 475.0,378.2 476.4,376.3 478.3,372.5 480.3,354.8 482.0,334.8 483.9,314.7 485.6,296.5 487.5,284.4 489.4,272.9 491.7,266.3 493.6,260.7 495.3,255.2 497.2,254.2 499.4,254.9 501.2,259.2 503.2,266.0 505.0,273.2 506.9,279.1 508.9,285.6 511.1,292.2 513.3,297.3 515.3,303.5 517.2,308.9 519.4,312.8 521.7,316.1 523.6,319.8 525.6,324.8 527.8,331.6 530.0,335.5 531.9,340.6 534.2,345.8 536.1,353.1 538.3,361.0 540.3,368.3 542.5,371.0 544.4,372.2 546.7,371.3 548.6,368.3 550.6,364.5 552.8,363.2 555.0,363.6 556.9,364.6 558.9,366.0 561.1,368.3 563.1,366.6 565.3,364.2 567.2,362.2 569.4,360.2 571.4,358.9 573.6,357.1 575.6,356.2 577.8,354.8 580.0,351.5 582.2,346.2 584.4,342.4 586.4,337.6 588.6,332.0 590.6,325.7 592.8,321.3 594.7,318.1 596.9,312.1 598.9,305.4 600.8,297.0 603.1,288.1 605.0,279.1 606.9,267.7 609.2,257.3 611.1,250.9 613.3,245.3 615.6,241.3 617.5,238.2 619.7,234.8 621.7,231.5 623.9,228.7 625.8,224.6 628.1,221.0 630.0,218.2 632.2,216.3 634.2,214.5 635.3,210.9 637.5,205.4 639.4,199.5 641.1,192.7 643.1,181.9 645.0,172.0 646.7,168.5 648.6,162.4 650.6,156.3 652.8,151.4 654.7,148.2 656.9,142.8 658.9,137.9 661.1,132.5 663.3,127.7 665.3,124.0 667.2,119.9 669.4,117.1 671.4,113.3 673.6,109.6 675.6,107.0 677.8,104.7 679.7,103.8 681.9,103.8 684.2,103.4 686.1,104.3 688.3,103.8 690.3,105.4 692.5,107.1 694.4,107.9 696.4,110.6 698.6,113.6 700.6,115.7 702.8,117.0 705.0,117.9 706.9,116.8 708.9,117.9 711.1,113.4 713.1,114.6 714.7,116.4 716.7,117.5 718.9,118.0 720.8,118.0 721.4,118.0 723.3,117.4 725.6,116.3 727.8,114.7 729.7,113.0 731.7,110.7 733.9,108.6 735.8,106.0 738.1,103.2 740.0,98.9 742.2,95.8 744.2,92.4 746.4,91.8 748.6,91.9 750.6,96.8 752.8,101.9 754.7,108.7 756.7,115.4 758.3,120.4 760.3,122.7 762.2,124.4 764.4,126.2 766.4,128.2 768.6,129.4 770.6,131.1 772.8,131.5 774.7,131.4 776.9,131.2 778.9,131.9 781.1,133.3 783.3,135.8 785.3,138.9 787.2,140.0 789.4,142.1 791.4,143.0 793.1,145.1 795.0,145.3 797.2,145.0 799.2,142.2 801.1,139.6 803.3,138.8 805.6,138.4 807.5,136.6 809.4,137.0 811.7,135.2 813.6,130.9 815.8,129.6 817.8,127.7 820.0,126.8 821.9,125.0 824.2,122.2 826.1,119.4 828.3,116.6 830.3,114.6 832.5,113.7 834.4,115.8 836.7,119.0 838.9,122.5 840.8,124.8 842.8,126.7 845.0,127.8 846.9,127.4 849.2,126.9 851.1,128.9 853.3,128.6 855.6,130.2 857.5,130.4 859.7,131.4 861.7,134.1 863.9,138.4 865.8,140.5 868.1,144.4 870.0,146.4 872.2,147.3 874.4,148.0 876.4,148.9 878.6,150.1 880.6,151.4 882.8,151.8 884.7,149.7 886.7,147.4 888.9,144.4 890.8,143.7 893.1,144.9 894.4,149.2 896.7,152.1 898.6,156.3 900.6,160.2 902.8,156.2 904.7,151.7 906.9,147.5 908.9,142.3 911.1,138.2 913.1,135.6 915.3,131.5 917.2,129.5 919.4,127.8 921.4,126.7 923.6,126.0 925.6,125.8 927.8,124.9 930.0,125.0 931.9,125.1 934.2,124.5 936.1,123.9 938.1,125.0 940.3,127.0 942.5,129.1 944.4,130.0 946.4,132.1 948.6,135.3 950.6,137.1 952.8,140.1 954.7,144.4 956.9,145.0 958.9,145.3 961.1,144.8 963.1,144.2 964.7,147.3 966.7,150.7 968.9,154.0 970.8,152.7 972.8,150.5 975.0,148.1 976.9,146.0 979.2,145.3 981.1,143.4 983.3,142.7 985.6,142.8 987.5,142.9 988.6,144.6 990.6,145.6 992.8,146.2 994.7,147.4 996.7,147.1 998.3,144.1 1000.3,140.9 1002.2,138.1 1004.4,135.4 1006.4,134.7 1008.6,135.0 1010.6,135.8 1012.8,135.6 1014.7,135.3 1016.9,136.6 1018.9,139.5 1021.1,142.3 1023.3,143.9 1025.3,146.7 1027.2,147.5 1029.4,147.1 1031.4,144.6 1033.1,141.2 1035.0,138.1 1037.2,135.4 1039.2,134.2" fill="none" stroke="#f08a24" stroke-width="1.1" stroke-linejoin="round"/>
<path d="M1 122.5H1260" stroke="#2d4a74" stroke-width="1.2"/>
<path d="M196.3 2H1260" stroke="#e6185e" stroke-width="2.2"/>
<path d="M743.5 52L1260 138.5" stroke="#e6185e" stroke-width="2"/>
<path d="M741.5 191.3H1260" stroke="#e6185e" stroke-width="2"/>
<text x="545.7" y="35.6" font-size="20" fill="#e6185e">Monthly High</text>
<text x="1026" y="97.7" font-size="20" fill="#e6185e">Descending Triangle</text>
<rect x="5" y="5" width="77" height="22" fill="#000" fill-opacity="0.61"/><rect x="5" y="5" width="3" height="22" fill="#2f8b78"/>
<text x="17" y="21" font-size="11" font-weight="bold" fill="#fff">EUR/JPY</text>
<rect x="5" y="32" width="85" height="22" fill="#000" fill-opacity="0.61"/><rect x="5" y="32" width="3" height="22" fill="#e8600f"/>
<text x="17" y="48" font-size="11" font-weight="bold" fill="#fff">EMA (20,0)</text>
<text x="1268.5" y="450" font-size="10.8" fill="#555555">138.000</text>
<text x="1268.5" y="427" font-size="10.8" fill="#555555">138.250</text>
<text x="1268.5" y="404" font-size="10.8" fill="#555555">138.500</text>
<text x="1268.5" y="381" font-size="10.8" fill="#555555">138.750</text>
<text x="1268.5" y="358" font-size="10.8" fill="#555555">139.000</text>
<text x="1268.5" y="335" font-size="10.8" fill="#555555">139.250</text>
<text x="1268.5" y="313" font-size="10.8" fill="#555555">139.500</text>
<text x="1268.5" y="290" font-size="10.8" fill="#555555">139.750</text>
<text x="1268.5" y="267" font-size="10.8" fill="#555555">140.000</text>
<text x="1268.5" y="244" font-size="10.8" fill="#555555">140.250</text>
<text x="1268.5" y="221" font-size="10.8" fill="#555555">140.500</text>
<text x="1268.5" y="198" font-size="10.8" fill="#555555">140.750</text>
<text x="1268.5" y="176" font-size="10.8" fill="#555555">141.000</text>
<text x="1268.5" y="153" font-size="10.8" fill="#555555">141.250</text>
<text x="1268.5" y="130" font-size="10.8" fill="#555555">141.500</text>
<text x="1268.5" y="107" font-size="10.8" fill="#555555">141.750</text>
<text x="1268.5" y="84" font-size="10.8" fill="#555555">142.000</text>
<text x="1268.5" y="61" font-size="10.8" fill="#555555">142.250</text>
<text x="1268.5" y="39" font-size="10.8" fill="#555555">142.500</text>
<text x="1268.5" y="16" font-size="10.8" fill="#555555">142.750</text>
<text x="1268.5" y="501.9" font-size="10.8" fill="#555555">50.000</text>
<text x="1268.5" y="534.9" font-size="10.8" fill="#555555">0.000</text>
<path d="M1261 445.5h5M1261 422.66h5M1261 399.82h5M1261 376.97h5M1261 354.13h5M1261 331.29h5M1261 308.45h5M1261 285.61h5M1261 262.76h5M1261 239.92h5M1261 217.08h5M1261 194.24h5M1261 171.4h5M1261 148.55h5M1261 125.71h5M1261 102.87h5M1261 80.03h5M1261 57.19h5M1261 34.34h5M1261 11.5h5M1261 498.0h5M1261 531.0h5" stroke="#9a9a9a" stroke-width="1"/>
<path d="M1261.5 122.5l2.5 -2.5V116q0-.8 .8-.8h46.6q.8 0 .8 .8v13.2q0 .8-.8 .8h-46.6q-.8 0-.8-.8v-4.2z" fill="#2d4a74"/>
<text x="1268.6" y="127.3" font-size="11" font-weight="bold" fill="#fff">141.532</text>
<path d="M620 457.5h20M620 459.5h20M620 461.5h20" stroke="#6b6462" stroke-width="1"/>
<rect x="0.5" y="463.5" width="1260" height="68" fill="#f7f7f7" stroke="#ccd3e6" stroke-width="1"/>
<path d="M1 498H1260" stroke="#e4e4e4" stroke-width="1"/>
<path d="M989.5 464V531" stroke="#e9e9e9" stroke-width="1"/>
<rect x="1" y="465" width="1037.5" height="27" fill="#7cf97c"/>
<rect x="1" y="504" width="1037.5" height="27" fill="#f97c7c"/>
<path d="M989.5 465V491.5" stroke="#74ec74" stroke-width="1"/><path d="M989.5 504.5V531" stroke="#ec7474" stroke-width="1"/>
<path d="M0.5 465V531M1038.5 465V531" stroke="#111" stroke-width="1" fill="none"/>
<path d="M1 491.5H1038.5M1 504.5H1038.5" stroke="#141414" stroke-width="0.8" stroke-dasharray="2.4 0.9" fill="none"/>
<polyline points="0.0,481.0 2.4,481.6 4.0,480.0 6.0,483.0 9.0,486.0 12.0,488.0 15.0,489.0 19.0,489.0 21.0,487.0 23.0,488.0 26.0,486.0 28.0,488.0 31.0,485.0 34.0,487.0 37.0,488.0 40.0,489.0 43.0,485.0 47.0,490.0 50.0,496.0 53.0,498.0 57.0,498.0 61.0,496.0 63.9,497.6 66.9,491.0 68.9,490.0 70.9,492.0 73.9,489.6 76.9,488.6 79.9,491.0 82.9,487.6 85.9,489.0 88.9,489.6 92.3,488.0 93.9,492.0 94.9,500.0 95.9,496.0 97.9,499.0 99.9,502.0 102.9,501.0 105.9,499.0 109.9,498.0 112.9,499.6 116.9,500.0 119.9,504.4 122.9,501.0 125.9,496.0 128.9,494.4 131.9,490.0 135.9,486.0 139.9,485.0 142.9,490.0 147.9,485.6 150.9,488.0 154.9,487.6 157.9,492.0 160.9,492.6 163.9,491.0 166.9,495.0 169.9,498.4 172.9,494.0 175.9,491.6 179.9,491.0 182.9,488.0 184.9,494.0 188.8,492.4 193.8,490.0 197.8,492.0 201.8,489.6 204.8,491.0 208.8,489.6 212.8,492.0 216.8,494.0 219.8,490.0 222.8,489.0 225.8,488.6 228.8,492.0 231.8,490.0 235.8,488.0 238.8,488.6 242.8,485.0 246.8,482.0 249.8,481.0 252.2,487.0 253.8,493.0 256.8,494.0 258.8,496.0 261.8,492.0 263.8,495.0 266.0,495.6 267.6,493.6 269.0,501.0 271.0,504.4 274.0,507.0 277.0,505.0 280.0,508.0 284.0,505.6 287.0,507.0 291.0,514.0 295.0,515.6 299.0,518.4 301.0,513.6 303.0,515.0 306.0,513.0 309.0,514.4 314.0,512.4 317.0,508.0 321.0,509.6 325.0,512.0 328.0,510.0 332.9,510.0 335.9,515.0 337.9,517.0 341.9,514.4 345.9,516.0 349.9,519.0 353.9,522.4 356.9,520.0 359.9,515.6 362.9,512.0 365.9,511.0 368.9,512.4 371.9,508.0 374.9,505.0 377.9,509.0 379.9,508.0 382.9,504.0 385.9,502.0 387.9,503.0 389.9,496.0 392.9,497.0 394.9,496.0 397.9,498.0 400.9,497.6 404.9,494.4 407.9,493.6 411.9,496.4 414.9,495.6 417.9,494.4 421.9,498.0 424.9,496.0 426.9,491.0 428.9,489.4 432.9,492.6 435.9,492.0 437.9,491.0 439.9,494.0 441.9,499.0 444.9,494.0 447.9,491.6 451.9,491.4 453.8,494.0 455.8,504.0 456.8,509.0 460.8,510.0 462.8,504.4 465.8,506.0 469.8,508.6 472.8,505.0 474.8,503.0 476.2,496.4 477.8,497.6 479.8,486.0 480.8,482.0 483.8,480.4 486.8,485.0 489.8,485.6 492.8,489.6 495.8,491.0 498.8,497.0 500.8,499.0 502.8,498.6 504.8,502.0 508.8,502.6 515.8,503.0 518.8,502.4 521.8,502.0 524.8,503.6 527.8,506.4 529.8,505.0 532.0,505.6 535.0,507.6 538.0,510.0 541.0,510.0 543.0,504.0 547.0,499.0 551.0,494.6 554.0,496.4 557.0,499.6 560.0,502.0 564.0,496.6 568.0,495.4 573.0,495.4 575.0,494.4 577.6,496.0 581.0,489.6 583.0,488.6 585.0,490.0 588.0,487.0 590.4,485.6 593.0,488.0 594.9,490.0 596.9,486.0 600.9,482.4 604.9,480.0 607.5,478.4 609.9,482.0 611.9,485.6 614.9,486.4 617.9,489.0 621.9,489.0 624.9,486.4 627.5,491.6 629.9,489.6 632.9,490.4 635.9,487.0 639.9,482.0 643.9,479.0 644.9,482.0 646.3,489.6 649.9,487.0 652.9,486.0 655.5,490.0 658.9,488.0 662.9,486.4 665.9,487.4 668.9,486.6 671.9,487.6 673.9,486.4 676.9,487.6 679.5,490.0 681.9,494.0 685.9,493.0 688.9,494.4 691.9,497.6 695.9,501.0 699.9,503.4 702.9,501.0 705.9,498.0 708.9,493.0 711.3,487.0 712.9,498.0 714.9,500.0 717.9,498.4 720.8,498.0 724.8,496.4 728.8,495.0 731.8,492.4 735.8,491.0 739.4,486.4 742.8,488.0 745.8,487.4 747.8,493.0 749.8,500.0 751.8,505.0 754.8,508.0 756.8,510.4 758.8,507.6 761.4,503.0 764.8,502.6 767.8,503.0 771.8,501.6 774.8,499.6 776.8,498.4 779.8,501.0 782.8,505.0 784.8,505.6 788.8,502.4 790.8,505.0 792.8,504.4 795.8,501.0 798.0,499.6 801.0,494.0 803.0,492.0 805.6,495.6 808.0,494.0 810.4,498.0 812.4,493.0 815.0,490.0 817.6,494.4 821.0,495.0 824.0,493.0 827.6,491.6 830.4,493.0 833.0,498.0 835.6,502.4 839.0,504.0 843.0,503.0 847.0,499.0 849.0,496.6 851.0,499.0 853.0,497.6 856.0,500.0 859.0,500.0 861.5,503.0 863.9,505.6 865.9,502.0 868.3,505.6 870.9,502.0 873.9,500.0 877.9,499.6 880.9,501.6 883.5,499.0 885.9,494.0 888.3,491.6 890.9,496.0 893.5,502.0 895.9,505.0 898.9,505.6 901.5,505.0 902.9,495.0 904.9,491.6 908.9,490.6 911.5,490.0 913.9,492.0 916.3,491.0 917.9,493.6 920.9,495.0 923.9,496.0 927.5,495.6 929.9,498.0 932.3,497.0 935.5,496.0 937.9,499.0 940.9,501.6 943.9,502.0 946.9,501.0 948.9,505.0 951.5,502.4 954.3,505.6 956.9,500.0 959.9,499.0 962.3,497.0 964.9,500.0 967.5,504.0 969.9,499.0 972.9,496.0 975.9,494.4 978.9,495.6 980.9,494.4 983.9,496.4 986.8,498.0 989.4,501.0 992.8,501.6 995.8,498.0 998.2,493.0 1000.2,491.4 1003.8,492.0 1006.8,495.6 1009.8,497.6 1012.8,496.4 1014.8,497.0 1017.8,504.0 1020.8,503.0 1023.4,501.6 1025.8,505.0 1028.2,500.0 1030.8,496.0 1033.8,492.0 1036.8,490.6 1038.8,494.4" fill="none" stroke="#1c3cf0" stroke-width="1.15" stroke-linejoin="round"/>
<rect x="5" y="468" width="111" height="22" fill="#000" fill-opacity="0.6"/><rect x="5" y="468" width="3" height="22" fill="#00ee00"/>
<text x="17" y="484" font-size="11" font-weight="bold" fill="#fff">RSI (14,60,40,1)</text>
<rect x="776" y="489" width="270" height="18" fill="none" stroke="#e6185e" stroke-width="2"/>
<text x="0" y="549" font-size="11" fill="#555555">Jan</text>
<text x="66.9" y="549" font-size="11" fill="#555555" text-anchor="middle">6</text>
<text x="112.0" y="549" font-size="11" fill="#555555" text-anchor="middle">8</text>
<text x="168.2" y="549" font-size="11" fill="#555555" text-anchor="middle">10</text>
<text x="219.7" y="549" font-size="11" fill="#555555" text-anchor="middle">11</text>
<text x="271.5" y="549" font-size="11" fill="#555555" text-anchor="middle">12</text>
<text x="323.3" y="549" font-size="11" fill="#555555" text-anchor="middle">13</text>
<text x="368.4" y="549" font-size="11" fill="#555555" text-anchor="middle">15</text>
<text x="424.6" y="549" font-size="11" fill="#555555" text-anchor="middle">17</text>
<text x="476.4" y="549" font-size="11" fill="#555555" text-anchor="middle">18</text>
<text x="528.2" y="549" font-size="11" fill="#555555" text-anchor="middle">19</text>
<text x="579.7" y="549" font-size="11" fill="#555555" text-anchor="middle">20</text>
<text x="624.9" y="549" font-size="11" fill="#555555" text-anchor="middle">22</text>
<text x="681.0" y="549" font-size="11" fill="#555555" text-anchor="middle">24</text>
<text x="732.9" y="549" font-size="11" fill="#555555" text-anchor="middle">25</text>
<text x="784.4" y="549" font-size="11" fill="#555555" text-anchor="middle">26</text>
<text x="836.2" y="549" font-size="11" fill="#555555" text-anchor="middle">27</text>
<text x="881.3" y="549" font-size="11" fill="#555555" text-anchor="middle">29</text>
<text x="937.5" y="549" font-size="11" fill="#555555" text-anchor="middle">31</text>
<text x="989.3" y="549" font-size="11" fill="#555555" text-anchor="middle">Feb</text>
<text x="1040.8" y="549" font-size="11" fill="#555555" text-anchor="middle">2</text>
<text x="1092.6" y="549" font-size="11" fill="#555555" text-anchor="middle">3</text>
<text x="1144.4" y="549" font-size="11" fill="#555555" text-anchor="middle">5</text>
<text x="1196.3" y="549" font-size="11" fill="#555555" text-anchor="middle">6</text>
<text x="1247.7" y="549" font-size="11" fill="#555555" text-anchor="middle">7</text>
<path d="M0.5 532v3M66.5 532v3M112.5 532v3M168.5 532v3M219.5 532v3M271.5 532v3M323.5 532v3M368.5 532v3M424.5 532v3M476.5 532v3M528.5 532v3M579.5 532v3M624.5 532v3M681.5 532v3M732.5 532v3M784.5 532v3M836.5 532v3M881.5 532v3M937.5 532v3M989.5 532v3M1040.5 532v3M1092.5 532v3M1144.5 532v3M1196.5 532v3M1247.5 532v3" stroke="#9a9a9a" stroke-width="1"/>
</svg>
</body></html>
